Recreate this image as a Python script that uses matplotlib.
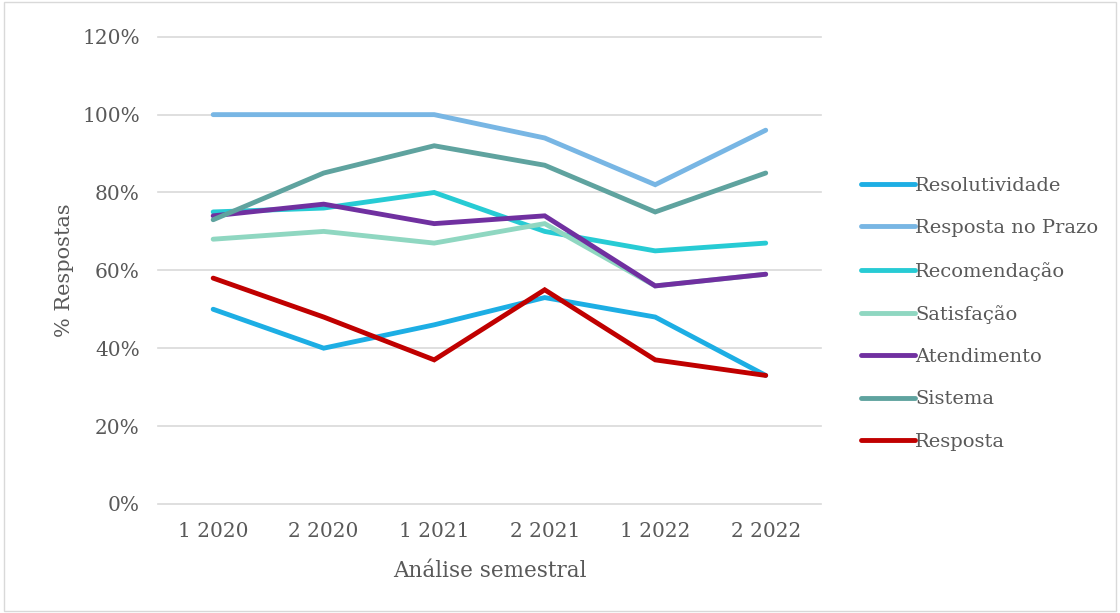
import matplotlib
matplotlib.use("Agg")
import matplotlib.pyplot as plt
from matplotlib.ticker import PercentFormatter, MultipleLocator
from matplotlib.patches import Rectangle

periods = ["1 2020", "2 2020", "1 2021", "2 2021", "1 2022", "2 2022"]

resolutividade = [50, 40, 46, 53, 48, 33]
resposta_prazo = [100, 100, 100, 94, 82, 96]
recomendacao = [75, 76, 80, 70, 65, 67]
satisfacao = [68, 70, 67, 72, 56, 59]
atendimento = [74, 77, 72, 74, 56, 59]
sistema = [73, 85, 92, 87, 75, 85]
resposta = [58, 48, 37, 55, 37, 33]

series = [
    ("Resolutividade", resolutividade, "#1DAEE4"),
    ("Resposta no Prazo", resposta_prazo, "#78B6E4"),
    ("Recomendação", recomendacao, "#27CBD4"),
    ("Satisfação", satisfacao, "#8FD7C1"),
    ("Atendimento", atendimento, "#7030A0"),
    ("Sistema", sistema, "#5FA39F"),
    ("Resposta", resposta, "#C00000"),
]

plt.rcParams["font.family"] = ["DejaVu Serif"]
text_color = "#595959"

fig = plt.figure(figsize=(11.2, 6.13), dpi=100)
fig.patches.append(Rectangle((0.004, 0.003), 0.992, 0.994, transform=fig.transFigure,
                             fill=False, edgecolor="#D9D9D9", linewidth=1))
ax = fig.add_axes([0.141, 0.178, 0.592, 0.762])

x = list(range(len(periods)))
for name, vals, color in series:
    ax.plot(x, vals, color=color, lw=3.5, solid_capstyle="round",
            solid_joinstyle="miter", label=name)

ax.set_xlim(-0.5, len(periods) - 0.5)
ax.set_ylim(0, 120)
ax.yaxis.set_major_locator(MultipleLocator(20))
ax.yaxis.set_major_formatter(PercentFormatter(decimals=0))
ax.set_xticks(x)
ax.set_xticklabels(periods)
ax.grid(axis="y", color="#D9D9D9", lw=1.2)
for gl in ax.get_ygridlines():
    gl.set_clip_on(False)
ax.set_axisbelow(True)
for s in ax.spines.values():
    s.set_visible(False)
ax.tick_params(length=0, labelsize=14.5, colors=text_color)
ax.tick_params(axis="y", pad=13)
ax.tick_params(axis="x", pad=13)

ax.set_xlabel("Análise semestral", fontsize=15.5, color=text_color, labelpad=14)
ax.set_ylabel("% Respostas", fontsize=15, color=text_color, labelpad=6)

leg = fig.legend(loc="center left", bbox_to_anchor=(0.753, 0.488), frameon=False,
                 fontsize=14, labelcolor=text_color, handlelength=2.8,
                 handletextpad=0.0, labelspacing=1.25)

fig.savefig("out.png", dpi=100)
